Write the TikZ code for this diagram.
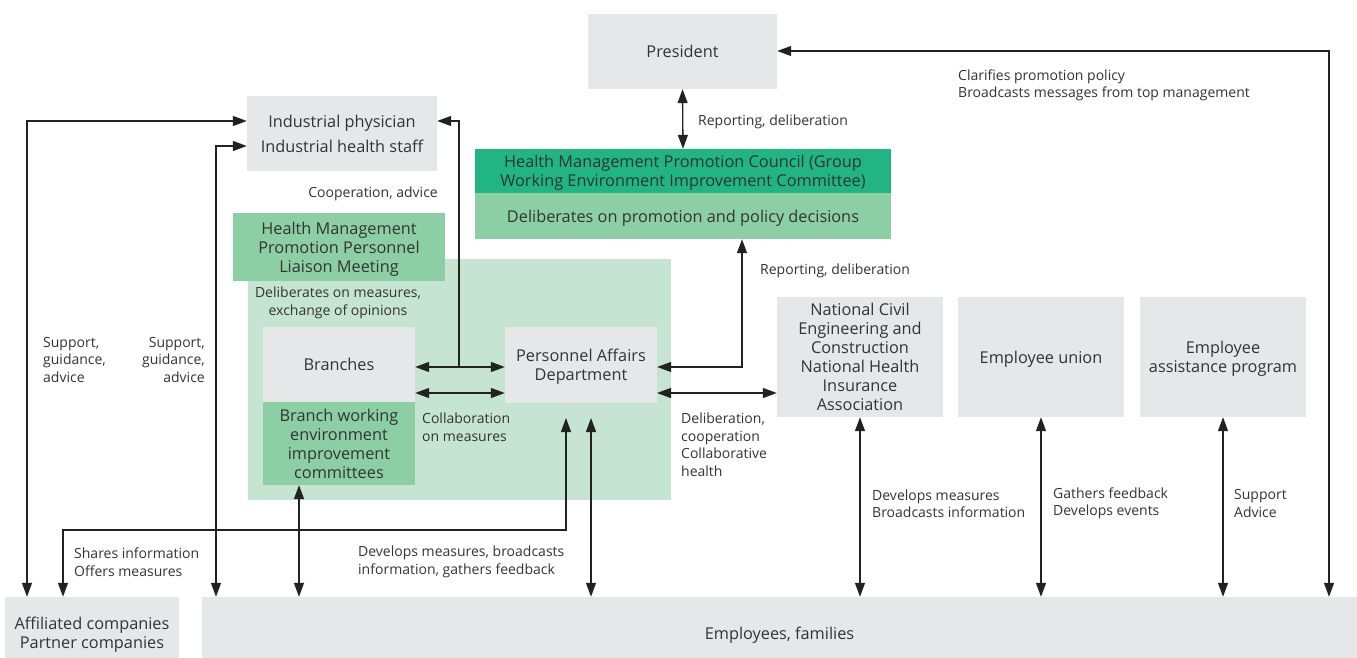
\documentclass[tikz,border=0pt]{standalone}
\usepackage{fontspec}
\setmainfont{Open Sans}
\usetikzlibrary{arrows.meta,calc}
\definecolor{boxgray}{HTML}{E6E7E9}
\definecolor{dgreen}{HTML}{22B584}
\definecolor{mgreen}{HTML}{8DCFA4}
\definecolor{lgreen}{HTML}{C6E4D2}
\definecolor{txt}{HTML}{333333}
\definecolor{ln}{HTML}{222222}
\newcommand{\boxfnt}{\fontsize{16.3}{19}\selectfont}
\newcommand{\labfnt}{\fontsize{14}{17.5}\selectfont}
\begin{document}
\begin{tikzpicture}[x=1pt,y=-1pt,
  box/.style={fill=boxgray, inner sep=0, align=center, text=txt, font=\boxfnt, text depth=0pt},
  lab/.style={inner sep=0, align=left, text=txt, font=\labfnt, anchor=west, yshift=-1.5pt},
  arr/.style={draw=ln, line width=1.3pt, -{Triangle[length=14pt,width=10pt]}},
  dbl/.style={draw=ln, line width=1.3pt, {Triangle[length=14pt,width=10pt]}-{Triangle[length=14pt,width=10pt]}}]
\useasboundingbox (0,0) rectangle (1357,658);
% background area
\fill[lgreen] (248,259) rectangle (671,500);
% boxes
\node[box, minimum width=189pt, minimum height=75pt] (pres) at (682.5,51.5) {President};
\node[box, minimum width=190pt, minimum height=75pt] (ind) at (342,133.5) {Industrial physician\\[6pt]Industrial health staff};
\node[box, fill=dgreen, minimum width=416pt, minimum height=44pt] (councilA) at (683,171) {Health Management Promotion Council (Group\\Working Environment Improvement Committee)};
\node[box, fill=mgreen, minimum width=416pt, minimum height=46pt] (councilB) at (683,216) {Deliberates on promotion and policy decisions};
\node[box, fill=mgreen, minimum width=212pt, minimum height=68pt] (liaison) at (339,247) {Health Management\\Promotion Personnel\\Liaison Meeting};
\node[box, minimum width=152pt, minimum height=75pt] (branch) at (339,364.5) {Branches};
\node[box, fill=mgreen, minimum width=152pt, minimum height=83pt] (bcomm) at (339,443.5) {Branch working\\environment\\improvement\\committees};
\node[box, minimum width=152pt, minimum height=76pt] (pers) at (581,365) {Personnel Affairs\\Department};
\node[box, minimum width=166pt, minimum height=120pt] (nat) at (860,357) {National Civil\\Engineering and\\Construction\\National Health\\Insurance\\Association};
\node[box, minimum width=166pt, minimum height=120pt] (union) at (1041,357) {Employee union};
\node[box, minimum width=166pt, minimum height=120pt] (eap) at (1223,357) {Employee\\assistance program};
\node[box, minimum width=174pt, minimum height=72pt] (aff) at (92,633) {Affiliated companies\\Partner companies};
\node[box, minimum width=1155pt, minimum height=72pt] (emp) at (779.5,633) {Employees, families};
% coordinates
\coordinate (rc) at (1329,51);
\coordinate (L1) at (27,121);
\coordinate (L2) at (216,146);
\coordinate (J) at (459,367);
\coordinate (S1) at (63,530);
\coordinate (P1) at (566,418);
\coordinate (P2) at (591,418);
\coordinate (K) at (742,367);
\coordinate (M) at (657,393);
% connectors
\draw[dbl] (pres.south) -- (councilA.north);
\draw[dbl] (pres.east |- rc) -- (rc) -- (rc |- emp.north);
\draw[dbl] (ind.west |- L1) -- (L1) -- (L1 |- aff.north);
\draw[dbl] (ind.west |- L2) -- (L2) -- (L2 |- emp.north);
\draw[dbl] (branch.east |- J) -- (pers.west |- J);
\draw[arr] (J) |- (ind.east |- L1);
\draw[dbl] (branch.east |- M) -- (pers.west |- M);
\draw[dbl] ([xshift=-40pt]bcomm.south) -- ([xshift=-40pt]bcomm.south |- emp.north);
\draw[dbl] (P1) |- (S1) -- (S1 |- aff.north);
\draw[dbl] (P2) -- (P2 |- emp.north);
\draw[dbl] (pers.east |- K) -- (K) -- (K |- councilB.south);
\draw[dbl] (M) -- (nat.west |- M);
\draw[dbl] (nat.south) -- (nat.south |- emp.north);
\draw[dbl] (union.south) -- (union.south |- emp.north);
\draw[dbl] (eap.south) -- (eap.south |- emp.north);
% labels
\node[lab] (l1) at (698,120) {Reporting, deliberation};
\node[lab] (l2) at (958,84) {Clarifies promotion policy\\Broadcasts messages from top management};
\node[lab, anchor=east, align=right] (l3) at (438,192) {Cooperation, advice};
\node[lab] (l4) at (43,358) {Support,\\guidance,\\advice};
\node[lab, anchor=east, align=right] (l5) at (205,358) {Support,\\guidance,\\advice};
\node[lab, anchor=center, align=center] (l6) at (338,301.5) {Deliberates on measures,\\exchange of opinions};
\node[lab] (l7) at (422,425.5) {Collaboration\\on measures};
\node[lab] (l8) at (760,269) {Reporting, deliberation};
\node[lab] (l9) at (681,443) {Deliberation,\\cooperation\\Collaborative\\health};
\node[lab] (l10) at (74,560.5) {Shares information\\Offers measures};
\node[lab] (l11) at (358,560.5) {Develops measures, broadcasts\\information, gathers feedback};
\node[lab] (l12) at (872,502) {Develops measures\\Broadcasts information};
\node[lab] (l13) at (1053,502) {Gathers feedback\\Develops events};
\node[lab] (l14) at (1234,502) {Support\\Advice};
\end{tikzpicture}
\end{document}
